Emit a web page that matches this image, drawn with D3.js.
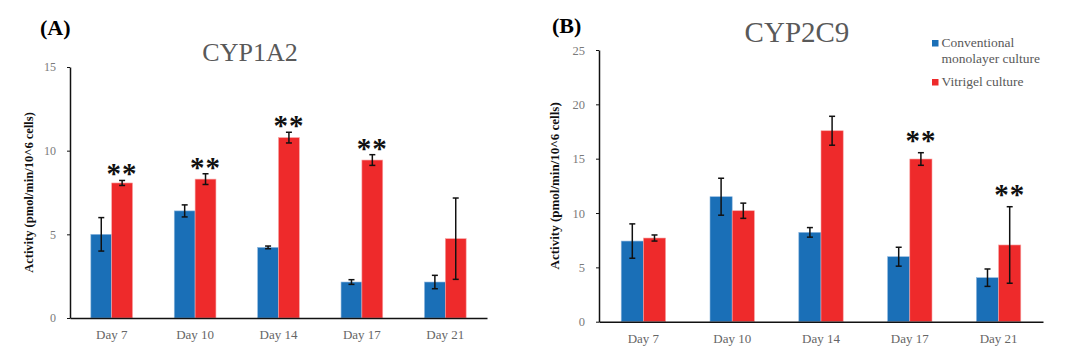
<!DOCTYPE html>
<html>
<head>
<meta charset="utf-8">
<script src="https://cdn.jsdelivr.net/npm/d3@7"></script>
<style>
  body { margin: 0; background: #fff; }
  svg { display: block; }
</style>
</head>
<body>
<div id="chart"></div>
<script>
// Shared categories and series
const days = ["Day 7", "Day 10", "Day 14", "Day 17", "Day 21"];
const seriesNames = ["Conventional monolayer culture", "Vitrigel culture"];
const colors = ["#1a6fb7", "#ee2a2b"];

// CYP1A2 (panel A)
const cyp1a2Mono = [5.0, 6.4, 4.22, 2.15, 2.15];
const cyp1a2MonoErr = [1.0, 0.36, 0.08, 0.14, 0.4];
const cyp1a2Vitri = [8.07, 8.3, 10.78, 9.44, 4.74];
const cyp1a2VitriErr = [0.15, 0.32, 0.32, 0.32, 2.43];
const cyp1a2Stars = [true, true, true, true, false];
const cyp1a2Ticks = [0, 5, 10, 15];

// CYP2C9 (panel B)
const cyp2c9Mono = [7.42, 11.5, 8.22, 5.98, 4.05];
const cyp2c9MonoErr = [1.58, 1.7, 0.44, 0.87, 0.8];
const cyp2c9Vitri = [7.7, 10.21, 17.57, 14.97, 7.06];
const cyp2c9VitriErr = [0.28, 0.7, 1.33, 0.58, 3.52];
const cyp2c9Stars = [false, false, false, true, true];
const cyp2c9Ticks = [0, 5, 10, 15, 20, 25];

const yLabel = "Activity (pmol/min/10^6 cells)";
const serif = "'Liberation Serif', 'Times New Roman', 'DejaVu Serif', serif";

const svg = d3.select("#chart").append("svg")
    .attr("width", 1086)
    .attr("height", 347)
    .style("font-family", serif);

function drawPanel(p) {
    const g = svg.append("g");

    const x = d3.scaleBand()
        .domain(days)
        .range([p.left, p.right])
        .paddingInner(0.5)
        .paddingOuter(0.25);

    const sub = d3.scaleBand()
        .domain([0, 1])
        .range([0, x.bandwidth()]);

    const y = d3.scaleLinear()
        .domain([0, d3.max(p.ticks)])
        .range([p.bottom, p.top]);

    const rows = days.map((d, i) => ({
        day: d,
        vals: [
            { s: 0, v: p.mono[i], e: p.monoErr[i] },
            { s: 1, v: p.vitri[i], e: p.vitriErr[i] }
        ],
        star: p.stars[i]
    }));

    // bars
    const grp = g.selectAll(".day")
        .data(rows)
        .enter().append("g")
        .attr("transform", d => `translate(${x(d.day)},0)`);

    grp.selectAll("rect")
        .data(d => d.vals)
        .enter().append("rect")
        .attr("x", d => sub(d.s))
        .attr("y", d => y(d.v))
        .attr("width", sub.bandwidth())
        .attr("height", d => p.bottom - y(d.v))
        .attr("fill", d => colors[d.s])
        .attr("stroke", d => d.s === 1 ? "#f7a5a5" : "#8fb8df")
        .attr("stroke-width", 0.6);

    // error bars
    const eb = grp.selectAll(".err")
        .data(d => d.vals)
        .enter().append("g")
        .attr("stroke", "#111")
        .attr("stroke-width", 1.5);

    const cx = d => sub(d.s) + sub.bandwidth() / 2;
    eb.append("line")
        .attr("x1", cx).attr("x2", cx)
        .attr("y1", d => y(d.v + d.e))
        .attr("y2", d => y(d.v - d.e));
    eb.append("line")
        .attr("x1", d => cx(d) - 3).attr("x2", d => cx(d) + 3)
        .attr("y1", d => y(d.v + d.e)).attr("y2", d => y(d.v + d.e));
    eb.append("line")
        .attr("x1", d => cx(d) - 3).attr("x2", d => cx(d) + 3)
        .attr("y1", d => y(d.v - d.e)).attr("y2", d => y(d.v - d.e));

    // significance stars
    grp.filter(d => d.star)
        .append("text")
        .attr("x", sub(1) + sub.bandwidth() / 2)
        .attr("y", d => y(d.vals[1].v + d.vals[1].e) - p.starGap)
        .attr("text-anchor", "middle")
        .style("font-family", serif)
        .attr("font-size", p.starSize)
        .attr("font-weight", "bold")
        .attr("letter-spacing", 1)
        .attr("fill", "#111")
        .text("**");

    // y axis
    const yAxis = g.append("g")
        .attr("transform", `translate(${p.left},0)`)
        .call(d3.axisLeft(y).tickValues(p.ticks).tickSize(3).tickSizeOuter(0).tickPadding(p.tickPad));
    yAxis.select(".domain").attr("stroke", "#111").attr("stroke-width", 1.5);
    yAxis.selectAll(".tick line").attr("stroke", "#111");
    yAxis.selectAll("text")
        .style("font-family", serif)
        .attr("font-size", p.tickSize)
        .attr("fill", "#7a7a7a");

    // x axis
    const xAxis = g.append("g")
        .attr("transform", `translate(0,${p.bottom})`)
        .call(d3.axisBottom(x).tickSize(0).tickPadding(p.xPad));
    xAxis.select(".domain").attr("stroke", "#111").attr("stroke-width", 1.5);
    xAxis.selectAll("text")
        .style("font-family", serif)
        .attr("font-size", p.xSize)
        .attr("fill", "#666");

    // y axis title
    g.append("text")
        .attr("transform", `translate(${p.yTitleX},${(p.top + p.bottom) / 2}) rotate(-90)`)
        .attr("text-anchor", "middle")
        .style("font-family", serif)
        .attr("font-size", p.yTitleSize)
        .attr("font-weight", "bold")
        .attr("fill", "#111")
        .text(yLabel);

    // chart title
    g.append("text")
        .attr("x", p.titleX)
        .attr("y", p.titleY)
        .attr("text-anchor", "middle")
        .style("font-family", serif)
        .attr("font-size", p.titleSize)
        .attr("fill", "#595959")
        .text(p.title);

    // panel letter
    g.append("text")
        .attr("x", p.letterX)
        .attr("y", p.letterY)
        .style("font-family", serif)
        .attr("font-size", p.letterSize)
        .attr("font-weight", "bold")
        .attr("fill", "#000")
        .text(p.letter);
}

drawPanel({
    mono: cyp1a2Mono, monoErr: cyp1a2MonoErr,
    vitri: cyp1a2Vitri, vitriErr: cyp1a2VitriErr,
    stars: cyp1a2Stars, ticks: cyp1a2Ticks,
    left: 70, right: 487, top: 67, bottom: 318,
    title: "CYP1A2", titleX: 250, titleY: 61, titleSize: 26,
    letter: "(A)", letterX: 40, letterY: 35, letterSize: 22,
    yTitleX: 33, yTitleSize: 12.5, tickSize: 12, tickPad: 11,
    xSize: 13, xPad: 12, starSize: 29, starGap: -3
});

drawPanel({
    mono: cyp2c9Mono, monoErr: cyp2c9MonoErr,
    vitri: cyp2c9Vitri, vitriErr: cyp2c9VitriErr,
    stars: cyp2c9Stars, ticks: cyp2c9Ticks,
    left: 599, right: 1043, top: 50, bottom: 321.7,
    title: "CYP2C9", titleX: 797, titleY: 42, titleSize: 29,
    letter: "(B)", letterX: 552, letterY: 33, letterSize: 22,
    yTitleX: 559, yTitleSize: 13, tickSize: 12.5, tickPad: 11,
    xSize: 13, xPad: 12, starSize: 29, starGap: 3
});

// legend
const legend = svg.append("g").attr("transform", "translate(932,0)");
const legendRows = [
    { lines: ["Conventional", "monolayer culture"], y: 47 },
    { lines: ["Vitrigel culture"], y: 86 }
];
legendRows.forEach((r, i) => {
    legend.append("rect")
        .attr("x", 0).attr("y", r.y - 7)
        .attr("width", 6.5).attr("height", 6.5)
        .attr("fill", colors[i]);
    r.lines.forEach((t, j) => {
        legend.append("text")
            .attr("x", 9.5).attr("y", r.y + j * 15.7)
            .style("font-family", serif)
            .attr("font-size", 13.5)
            .attr("fill", "#595959")
            .text(t);
    });
});
</script>
</body>
</html>
